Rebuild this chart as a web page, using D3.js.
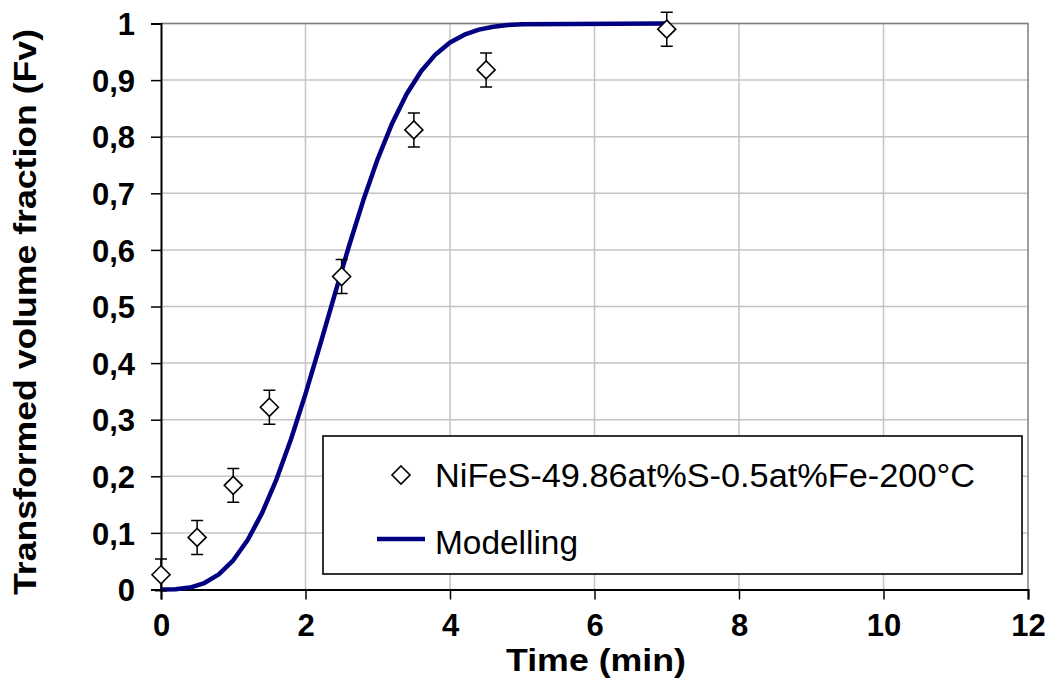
<!DOCTYPE html>
<html><head><meta charset="utf-8">
<script src="https://cdn.jsdelivr.net/npm/d3@7"></script>
<style>body{margin:0;background:#fff}svg{display:block}text{font-family:"Liberation Sans",Arial,sans-serif}</style>
</head><body>
<svg id="c" width="1051" height="683"></svg>
<script>
const expTimes = [0, 0.5, 1, 1.5, 2.5, 3.5, 4.5, 7];
const expFv = [0.026, 0.092, 0.184, 0.322, 0.553, 0.812, 0.918, 0.99];
const expErr = [0.028, 0.03, 0.03, 0.03, 0.03, 0.03, 0.03, 0.03];
const modelTimes = [0,0.2,0.4,0.6,0.8,1.0,1.2,1.4,1.6,1.8,2.0,2.2,2.4,2.6,2.8,3.0,3.2,3.4,3.6,3.8,4.0,4.2,4.4,4.6,4.8,5.0,7];
const modelFv = [0,0.0004,0.0034,0.0114,0.0268,0.0516,0.0875,0.1354,0.1952,0.2659,0.3456,0.4313,0.5194,0.6060,0.6876,0.7609,0.8239,0.8755,0.9157,0.9454,0.9664,0.9803,0.9891,0.9943,0.9972,0.9987,1];
const xTicks = [0,2,4,6,8,10,12];
const yTicks = [0,0.1,0.2,0.3,0.4,0.5,0.6,0.7,0.8,0.9,1];
const yTickLabels = ["0","0,1","0,2","0,3","0,4","0,5","0,6","0,7","0,8","0,9","1"];
const seriesNames = ["NiFeS-49.86at%S-0.5at%Fe-200°C","Modelling"];

const svg = d3.select("#c");
const x = d3.scaleLinear().domain([0,12]).range([161,1028]);
const y = d3.scaleLinear().domain([0,1]).range([589.5,23.5]);

// gridlines
const g = svg.append("g");
g.selectAll("line.h").data(yTicks.slice(1)).join("line")
  .attr("x1",x(0)).attr("x2",x(12)).attr("y1",d=>y(d)).attr("y2",d=>y(d))
  .attr("stroke","#c4c4c4").attr("stroke-width",1.5);
g.selectAll("line.v").data(xTicks.slice(1,-1)).join("line")
  .attr("x1",d=>x(d)).attr("x2",d=>x(d)).attr("y1",y(0)).attr("y2",y(1))
  .attr("stroke","#c4c4c4").attr("stroke-width",1.5);
// top/right border
svg.append("path").attr("d",`M${x(0)},${y(1)}H${x(12)}V${y(0)}`)
  .attr("fill","none").attr("stroke","#808080").attr("stroke-width",1.5);

// axes
const xAxis = svg.append("g").attr("transform",`translate(0,${y(0)})`)
  .call(d3.axisBottom(x).tickValues(xTicks).tickSize(10).tickPadding(14).tickFormat(d3.format("d")));
const yAxis = svg.append("g").attr("transform",`translate(${x(0)},0)`)
  .call(d3.axisLeft(y).tickValues(yTicks).tickSize(10).tickPadding(16).tickFormat((d,i)=>yTickLabels[i]));
[xAxis,yAxis].forEach(a=>{
  a.select(".domain").attr("stroke","#000").attr("stroke-width",2);
  a.selectAll(".tick line").attr("stroke","#000").attr("stroke-width",1.5);
  a.selectAll(".tick text").attr("fill","#000").style("font-size","31px").style("font-weight","bold")
   .style("font-family","'Liberation Sans',Arial,sans-serif");
});
xAxis.selectAll(".tick text").attr("dy","0.71em");
yAxis.selectAll(".tick text").attr("dy","0.36em");

// model line
svg.append("path").datum(modelTimes.map((t,i)=>[t,modelFv[i]]))
  .attr("d",d3.line().x(d=>x(d[0])).y(d=>y(d[1])))
  .attr("fill","none").attr("stroke","#000080").attr("stroke-width",4.5).attr("stroke-linejoin","round");

// error bars
const pts = expTimes.map((t,i)=>({t,v:expFv[i],e:expErr[i]}));
const eb = svg.append("g");
eb.selectAll("path").data(pts).join("path")
  .attr("d",d=>{const cx=x(d.t), y1=y(d.v+d.e), y2=y(d.v-d.e);
    return `M${cx-6},${y1}H${cx+6}M${cx},${y1}V${y2}M${cx-6},${y2}H${cx+6}`;})
  .attr("fill","none").attr("stroke","#000").attr("stroke-width",1.5);
// diamonds
const dia = r=>`M0,${-r}L${r},0L0,${r}L${-r},0Z`;
svg.append("g").selectAll("path").data(pts).join("path")
  .attr("transform",d=>`translate(${x(d.t)},${y(d.v)})`)
  .attr("d",dia(9)).attr("fill","#fff").attr("stroke","#000").attr("stroke-width",1.6);

// axis titles
svg.append("text").attr("x",596).attr("y",671).attr("text-anchor","middle")
  .attr("textLength",180).attr("lengthAdjust","spacingAndGlyphs")
  .style("font-size","32px").style("font-weight","bold").text("Time (min)");
svg.append("text").attr("transform","translate(36,312) rotate(-90)").attr("text-anchor","middle")
  .attr("textLength",566).attr("lengthAdjust","spacingAndGlyphs")
  .style("font-size","32px").style("font-weight","bold").text("Transformed volume fraction (Fv)");

// legend
const lg = svg.append("g");
lg.append("rect").attr("x",323).attr("y",436).attr("width",699).attr("height",138)
  .attr("fill","#fff").attr("stroke","#000").attr("stroke-width",1.6);
lg.append("path").attr("transform","translate(401,475)").attr("d",dia(9))
  .attr("fill","#fff").attr("stroke","#000").attr("stroke-width",1.6);
lg.append("text").attr("x",435).attr("y",487).attr("textLength",540).attr("lengthAdjust","spacingAndGlyphs")
  .style("font-size","33px").text(seriesNames[0]);
lg.append("line").attr("x1",377).attr("x2",425).attr("y1",539).attr("y2",539)
  .attr("stroke","#000080").attr("stroke-width",4.5);
lg.append("text").attr("x",435).attr("y",554).attr("textLength",143).attr("lengthAdjust","spacingAndGlyphs")
  .style("font-size","33px").text(seriesNames[1]);
</script>
</body></html>
